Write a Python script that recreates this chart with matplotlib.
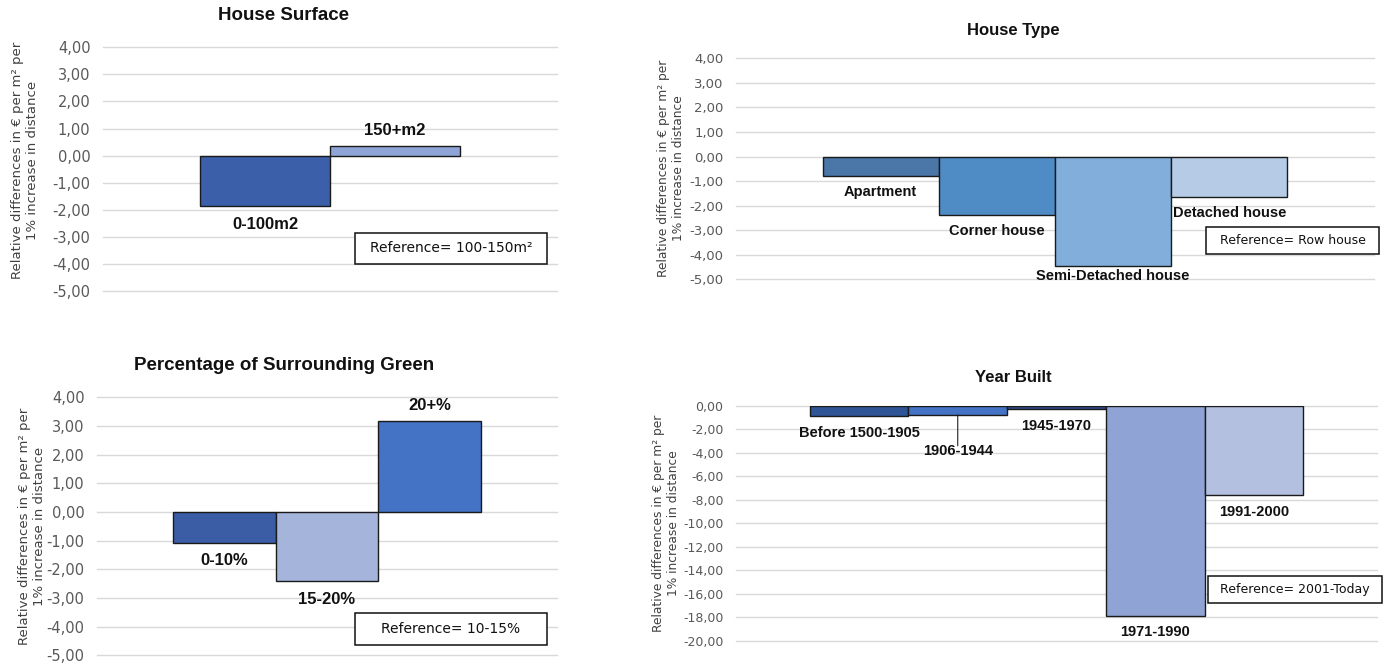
import matplotlib
matplotlib.use("Agg")
import matplotlib.pyplot as plt
import matplotlib.ticker as mticker
from matplotlib.patches import Rectangle

# ── data ───────────────────────────────────────────────────────
surface_cats = ["0-100m2", "150+m2"]
surface_vals = [-1.87, 0.37]

type_cats = ["Apartment", "Corner house", "Semi-Detached house", "Detached house"]
type_vals = [-0.78, -2.37, -4.47, -1.63]

green_cats = ["0-10%", "15-20%", "20+%"]
green_vals = [-1.07, -2.42, 3.18]

year_cats = ["Before 1500-1905", "1906-1944", "1945-1970", "1971-1990", "1991-2000"]
year_vals = [-0.85, -0.75, -0.25, -17.9, -7.62]

surface_ref = "Reference= 100-150m²"
type_ref = "Reference= Row house"
green_ref = "Reference= 10-15%"
year_ref = "Reference= 2001-Today"

YLABEL = "Relative differences in € per m² per\n1% increase in distance"

# ── styling ────────────────────────────────────────────────────
W, H = 1391, 663
GAP = 1.49            # gap between category clusters, in bar widths
GRID = "#d9d9d9"
TICK = "#595959"
EDGE = "#1a1a1a"
BOLD = ["Liberation Sans", "DejaVu Sans"]

surface_colors = ["#3b5fa8", "#8fa5d8"]
type_colors = ["#4a76a8", "#4f8bc5", "#82aedc", "#b5cbe6"]
green_colors = ["#3a5da5", "#a5b4da", "#4472c4"]
year_colors = ["#2f5597", "#4472c4", "#2e4a86", "#8fa3d4", "#b4c0e0"]


def px_rect(l, t, r, b):
    """Pixel box (left, top, right, bottom) -> figure-fraction rect."""
    return [l / W, 1 - b / H, (r - l) / W, (b - t) / H]


def comma_fmt(y, _):
    return f"{y:.2f}".replace(".", ",")


def panel(fig, box, cats, vals, colors, ylim, step, label_off,
          tick_size, label_size):
    ax = fig.add_axes(px_rect(*box))
    n = len(vals)
    ax.bar(range(n), vals, width=1.0, color=colors, edgecolor=EDGE,
           linewidth=1.0, zorder=3)
    ax.set_xlim(-0.5 - GAP / 2, n - 0.5 + GAP / 2)
    ax.set_ylim(*ylim)
    lo, hi = ylim
    ticks = [lo + i * step for i in range(int(round((hi - lo) / step)) + 1)]
    ax.set_yticks(ticks)
    ax.yaxis.set_major_formatter(mticker.FuncFormatter(comma_fmt))
    ax.tick_params(axis="y", length=0, pad=9, labelcolor=TICK,
                   labelsize=tick_size)
    ax.set_xticks([])
    ax.grid(axis="y", color=GRID, linewidth=1.0, zorder=0)
    for gl in ax.get_ygridlines():
        gl.set_clip_on(False)
    ax.spines[:].set_visible(False)
    ax.set_facecolor("none")

    for i, (c, v, off) in enumerate(zip(cats, vals, label_off)):
        ax.annotate(c, (i, v), xytext=(0, off * 0.72),
                    textcoords="offset points", ha="center", va="center",
                    fontsize=label_size, fontweight="bold", family=BOLD,
                    color="#111111", zorder=5)
    return ax


def ref_box(fig, box, text, size):
    l, t, r, b = box
    rect = Rectangle((l / W, 1 - b / H), (r - l) / W, (b - t) / H,
                     transform=fig.transFigure, facecolor="white",
                     edgecolor="#111111", linewidth=1.1, zorder=10)
    fig.add_artist(rect)
    fig.text((l + r) / 2 / W, 1 - (t + b) / 2 / H, text, ha="center",
             va="center", fontsize=size, color="#111111", zorder=11)


def title(fig, x, y, text, size):
    fig.text(x / W, 1 - y / H, text, ha="center", va="center",
             fontsize=size, fontweight="bold", family=BOLD, color="#111111")


def ylabel(fig, x, y, size):
    fig.text(x / W, 1 - y / H, YLABEL, ha="center", va="center",
             rotation=90, fontsize=size, color="#404040", linespacing=1.25,
             multialignment="center")


fig = plt.figure(figsize=(W / 100, H / 100), dpi=100)
fig.patch.set_facecolor("white")

# House Surface
panel(fig, (103, 47.3, 557, 291), surface_cats, surface_vals, surface_colors,
      (-5, 4), 1, [-18, 15.3], 10.5, 12)
title(fig, 284, 16, "House Surface", 13.5)
ylabel(fig, 25, 160, 9.5)
ref_box(fig, (355, 233, 547, 264), surface_ref, 10)

# House Type
panel(fig, (736, 58.3, 1374, 279.3), type_cats, type_vals, type_colors,
      (-5, 4), 1, [-16.6, -16.6, -10, -16.6], 9.5, 10.5)
title(fig, 1013, 30, "House Type", 12)
ylabel(fig, 671, 168, 8.8)
ref_box(fig, (1206, 227, 1379, 254), type_ref, 9)

# Percentage of Surrounding Green
panel(fig, (97, 397.3, 557, 655.3), green_cats, green_vals, green_colors,
      (-5, 4), 1, [-18, -18, 15.3], 10.5, 12)
title(fig, 284, 366, "Percentage of Surrounding Green", 13.5)
ylabel(fig, 32, 526, 9.5)
ref_box(fig, (355, 613, 547, 645), green_ref, 10)

# Year Built
ax4 = panel(fig, (736, 406, 1377, 640.7), year_cats, year_vals, year_colors,
            (-20, 0), 2, [-16.7, -36, -17, -15.7, -16.3], 9, 10.5)
# leader line for the label pushed below its bar
ax4.annotate("", xy=(1, year_vals[1]), xytext=(0, -31 * 0.72),
             textcoords="offset points",
             arrowprops=dict(arrowstyle="-", color="#222222", lw=0.8,
                             shrinkA=0, shrinkB=0), zorder=4)
title(fig, 1013, 377, "Year Built", 12)
ylabel(fig, 666, 523, 8.8)
ref_box(fig, (1208, 576, 1382, 603), year_ref, 9)

fig.savefig("out.png", dpi=100)
